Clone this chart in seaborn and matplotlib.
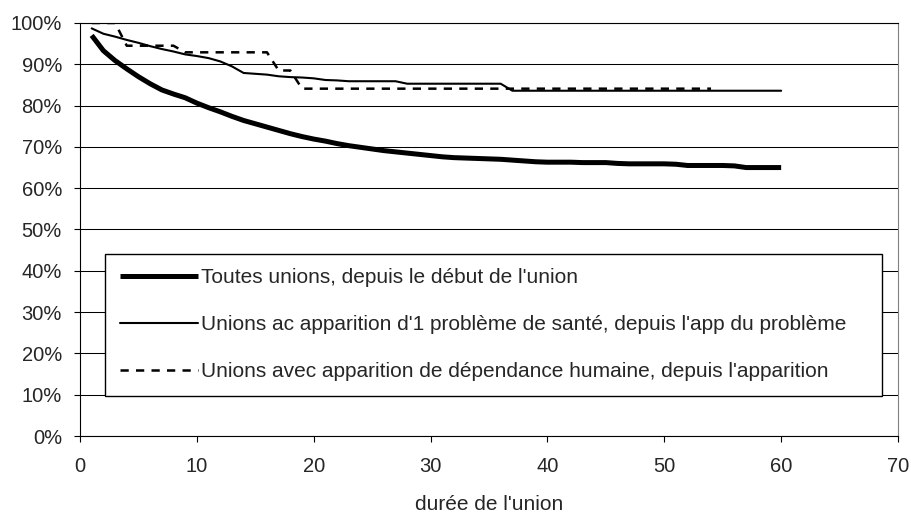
import numpy as np
import pandas as pd
import matplotlib
matplotlib.use("Agg")
import matplotlib.pyplot as plt
import seaborn as sns

# survival of unions (%) by union duration (years)
years_all = list(range(1, 61))
toutes_unions = [
    97.0, 93.3, 90.9, 88.9, 87.0, 85.3, 83.8, 82.8, 81.9, 80.6,
    79.5, 78.5, 77.4, 76.4, 75.6, 74.8, 74.0, 73.2, 72.5, 71.9,
    71.4, 70.8, 70.3, 69.9, 69.5, 69.1, 68.8, 68.5, 68.2, 67.9,
    67.6, 67.4, 67.3, 67.2, 67.1, 67.0, 66.8, 66.6, 66.4, 66.3,
    66.3, 66.3, 66.2, 66.2, 66.2, 66.0, 65.9, 65.9, 65.9, 65.9,
    65.8, 65.5, 65.5, 65.5, 65.5, 65.4, 65.0, 65.0, 65.0, 65.0,
]
probleme_sante = [
    98.7, 97.4, 96.7, 95.9, 95.2, 94.4, 93.7, 93.1, 92.4, 92.0,
    91.5, 90.7, 89.5, 87.9, 87.7, 87.5, 87.1, 86.9, 86.8, 86.6,
    86.2, 86.1, 85.9, 85.9, 85.9, 85.9, 85.9, 85.3, 85.3, 85.3,
    85.3, 85.3, 85.3, 85.3, 85.3, 85.3, 83.6, 83.6, 83.6, 83.6,
    83.6, 83.6, 83.6, 83.6, 83.6, 83.6, 83.6, 83.6, 83.6, 83.6,
    83.6, 83.6, 83.6, 83.6, 83.6, 83.6, 83.6, 83.6, 83.6, 83.6,
]
years_dep = list(range(1, 55))
dependance = [
    100.0, 100.0, 100.0, 94.5, 94.5, 94.5, 94.5, 94.5, 92.9, 92.9,
    92.9, 92.9, 92.9, 92.9, 92.9, 92.9, 88.5, 88.5, 84.1, 84.1,
    84.1, 84.1, 84.1, 84.1, 84.1, 84.1, 84.1, 84.1, 84.1, 84.1,
    84.1, 84.1, 84.1, 84.1, 84.1, 84.1, 84.1, 84.1, 84.1, 84.1,
    84.1, 84.1, 84.1, 84.1, 84.1, 84.1, 84.1, 84.1, 84.1, 84.1,
    84.1, 84.1, 84.1, 84.1,
]
labels = [
    "Toutes unions, depuis le début de l'union",
    "Unions ac apparition d'1 problème de santé, depuis l'app du problème",
    "Unions avec apparition de dépendance humaine, depuis l'apparition",
]
x_ticks = list(range(0, 71, 10))
y_ticks = list(range(0, 101, 10))

sns.set_style("white")
plt.rcParams['font.family'] = ['Liberation Sans', 'DejaVu Sans']

fig = plt.figure(figsize=(9.12, 5.13), dpi=100)
ax = fig.add_axes([80 / 912, 77 / 513, 818 / 912, 413 / 513])

sns.lineplot(x=years_all, y=toutes_unions, ax=ax, color='black',
             linewidth=3.6, solid_capstyle='butt', label=labels[0])
sns.lineplot(x=years_all, y=probleme_sante, ax=ax, color='black',
             linewidth=1.5, label=labels[1])
sns.lineplot(x=years_dep, y=dependance, ax=ax, color='black',
             linewidth=1.8, linestyle=(0, (3.3, 2.9)), label=labels[2])

ax.set_xlim(0, 70)
ax.set_ylim(0, 100)
ax.set_xticks(x_ticks)
ax.set_yticks(y_ticks)
ax.set_yticklabels([f"{v}%" for v in y_ticks])
ax.yaxis.grid(True, color='black', linewidth=0.75)
ax.xaxis.grid(False)
ax.tick_params(axis='both', labelsize=14.5, length=4, width=0.8,
               color='black', direction='out', left=True, bottom=True)
ax.tick_params(axis='y', pad=9)
ax.tick_params(axis='x', pad=11)
ax.set_xlabel("durée de l'union", fontsize=15)
ax.xaxis.set_label_coords(0.5, -0.143)
ax.set_ylabel("")

for side in ['left', 'bottom', 'top']:
    ax.spines[side].set_color('black')
    ax.spines[side].set_linewidth(0.8)
ax.spines['right'].set_color('#808080')
ax.spines['right'].set_linewidth(0.8)

leg = ax.legend(loc='lower left', bbox_to_anchor=(0.0306, 0.0968, 0.950, 0.3437),
                mode='expand', borderaxespad=0, fontsize=15,
                handlelength=3.75, handletextpad=0.15, labelspacing=1.35,
                borderpad=0.7, fancybox=False, framealpha=1,
                edgecolor='black')
leg.get_frame().set_linewidth(1.0)

fig.savefig('out.png', dpi=100)
plt.close(fig)
